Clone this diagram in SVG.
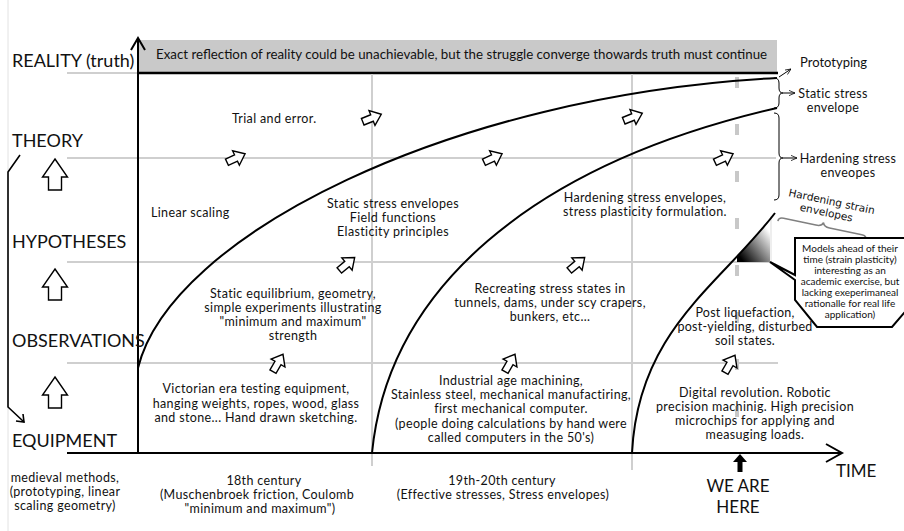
<svg xmlns="http://www.w3.org/2000/svg" width="904" height="531" viewBox="0 0 904 531">
<defs>
<style>
text{font-family:Lato,"Liberation Sans",sans-serif;fill:#111}
.lab{font-size:18px}
.t{font-size:12.5px;letter-spacing:0.35px;text-anchor:middle}
.s{font-size:12.5px;letter-spacing:0.35px}
.r{font-size:12.5px;letter-spacing:0.3px;text-anchor:middle}
.grid{stroke:#cfcfcf;stroke-width:2;fill:none}
.ax{stroke:#000;stroke-width:2;fill:none}
.cv{stroke:#000;stroke-width:2;fill:none}
.ba{fill:#fff;stroke:#000;stroke-width:1.4}
.thin{stroke:#000;stroke-width:1;fill:none}
.co{font-size:10px;text-anchor:middle}
</style>
<marker id="sm" viewBox="0 0 8 8" refX="8" refY="4" markerWidth="6" markerHeight="6" orient="auto" markerUnits="userSpaceOnUse"><path d="M0,0.5L8,4L0,7.5" fill="none" stroke="#000" stroke-width="1"/></marker>
<linearGradient id="g" x1="0" y1="1" x2="1" y2="0"><stop offset="0.1" stop-color="#000"/><stop offset="0.85" stop-color="#fff"/></linearGradient>
<path id="da" d="M-10,-3.5L0,-3.5L0,-8L10,0L0,8L0,3.5L-10,3.5Z"/>
<path id="up" d="M0,0L12.5,18L6.5,18L6.5,31L-6.5,31L-6.5,18L-12.5,18Z"/>
</defs>
<rect width="904" height="531" fill="#fff"/>
<line x1="8" y1="0" x2="8" y2="531" stroke="#e2e2e2" stroke-width="1"/>

<g id="banner">
<rect x="138" y="40" width="639" height="33" fill="#c9c9c9"/>
<line x1="138" y1="73" x2="778" y2="73" stroke="#000" stroke-width="2.5"/>
<text x="156" y="59" style="font-size:13.3px">Exact reflection of reality could be unachievable, but the struggle converge thowards truth must continue</text>
</g>

<g id="grid">
<path class="grid" d="M67,73H138M67,158H776M67,262H770M67,363H778M372,74V466M632,74V470"/>
<line x1="737" y1="77" x2="737" y2="425" stroke="#c8c8c8" stroke-width="4" stroke-dasharray="11 36"/>
</g>

<g id="gradient-area">
<polygon points="737,262 737,257 739.6,253.8 748,244 757.8,233.9 766.4,223.6 770,219 770,262" fill="url(#g)"/>
<line x1="771" y1="216" x2="771" y2="262" stroke="#ddd" stroke-width="1"/>
</g>

<g id="connectors">
<path class="ax" d="M138,39V453M67,453H842"/>
<path class="ax" d="M131,50L138,38L145,50"/>
<path class="ax" d="M826,444L842,453L826,462"/>
<path class="cv" d="M138,368C170,236 450,95 777,78"/>
<path class="cv" d="M372,453C388,290 530,165 777,108"/>
<path class="cv" d="M632,453C638,330 720,285 775,213"/>
<path class="ax" style="stroke-width:1.6" d="M20,155L8,172V407L24,422"/>
<path class="ax" style="stroke-width:1.6" d="M16,421L24,422L23,414"/>
<path class="thin" d="M779,77L791,69" marker-end="url(#sm)"/>
<path class="thin" d="M774,78q5,0 5,5v5q0,5 4,5q-4,0 -4,5v5q0,5 -5,5"/>
<path class="thin" d="M783,93H795" marker-end="url(#sm)"/>
<path class="thin" d="M774,113q5,0 5,5v35q0,5 4,5q-4,0 -4,5v32q0,5 -5,5"/>
<path class="thin" d="M783,158H797" marker-end="url(#sm)"/>
<path d="M-45,3q0,-4 5,-4h33q6,0 7,-4q1,4 7,4h33q5,0 5,4" transform="translate(822.5,227.5) rotate(12)" fill="none" stroke="#808080" stroke-width="1.5"/>
<polygon points="740,454 747,462 742.5,462 742.5,472 737.5,472 737.5,462 733,462" fill="#000"/>
</g>

<g id="up-arrows">
<use href="#up" class="ba" transform="translate(55,159)"/>
<use href="#up" class="ba" transform="translate(55,269)"/>
<use href="#up" class="ba" transform="translate(55,377)"/>
</g>

<g id="step-arrows">
<use href="#da" class="ba" transform="translate(372,118) rotate(-22)"/>
<use href="#da" class="ba" transform="translate(633,117) rotate(-22)"/>
<use href="#da" class="ba" transform="translate(236,158) rotate(-25)"/>
<use href="#da" class="ba" transform="translate(493,158) rotate(-25)"/>
<use href="#da" class="ba" transform="translate(724,158) rotate(-25)"/>
<use href="#da" class="ba" transform="translate(347,264) rotate(-40)"/>
<use href="#da" class="ba" transform="translate(577,264) rotate(-40)"/>
<use href="#da" class="ba" transform="translate(278,363) rotate(-60)"/>
<use href="#da" class="ba" transform="translate(510,363) rotate(-60)"/>
<use href="#da" class="ba" transform="translate(730,364) rotate(-60)"/>
</g>

<g id="levels">
<text class="lab" x="12" y="67">REALITY (truth)</text>
<text class="lab" x="12" y="147">THEORY</text>
<text class="lab" x="12" y="248">HYPOTHESES</text>
<text class="lab" x="12" y="347">OBSERVATIONS</text>
<text class="lab" x="12" y="447">EQUIPMENT</text>
<text class="lab" x="836" y="477" style="font-size:17px">TIME</text>
</g>

<g id="right-labels">
<text x="800" y="67" style="font-size:13px">Prototyping</text>
<text class="r" x="833" y="98">Static stress</text>
<text class="r" x="833" y="112">envelope</text>
<text class="r" x="848" y="163">Hardening stress</text>
<text class="r" x="848" y="177">enveopes</text>
<g transform="translate(831,205) rotate(12)">
<text x="0" y="0" style="font-family:'DejaVu Sans',sans-serif;font-size:10.5px;text-anchor:middle">Hardening strain</text>
<text x="-3" y="12" style="font-family:'DejaVu Sans',sans-serif;font-size:10.5px;text-anchor:middle">envelopes</text>
</g>
</g>

<g id="callout">
<polygon points="795,238 910,238 910,306 892,327 817,327 795,300 795,280 770,262 795,275" fill="#fff" stroke="#000" stroke-width="2"/>
<text class="co" x="850" y="252">Models ahead of their</text>
<text class="co" x="850" y="263">time (strain plasticity)</text>
<text class="co" x="850" y="274">interesting as an</text>
<text class="co" x="850" y="285">academic exercise, but</text>
<text class="co" x="850" y="296">lacking exeperimaneal</text>
<text class="co" x="850" y="307">rationalle for real life</text>
<text class="co" x="850" y="318">application)</text>
</g>

<g id="n-trial"><text class="s" x="232" y="123">Trial and error.</text></g>
<g id="n-linear"><text class="s" x="151" y="217">Linear scaling</text></g>
<g id="n-static-env">
<text class="t" x="393" y="208">Static stress envelopes</text>
<text class="t" x="393" y="222">Field functions</text>
<text class="t" x="393" y="236">Elasticity principles</text>
</g>
<g id="n-hardening">
<text class="t" x="645" y="202">Hardening stress envelopes,</text>
<text class="t" x="645" y="216">stress plasticity formulation.</text>
</g>
<g id="n-static-eq">
<text class="t" x="293" y="298">Static equilibrium, geometry,</text>
<text class="t" x="293" y="312">simple experiments illustrating</text>
<text class="t" x="293" y="326">"minimum and maximum"</text>
<text class="t" x="293" y="340">strength</text>
</g>
<g id="n-recreating">
<text class="t" x="550" y="293">Recreating stress states in</text>
<text class="t" x="550" y="307">tunnels, dams, under scy crapers,</text>
<text class="t" x="550" y="321">bunkers, etc...</text>
</g>
<g id="n-post">
<text class="t" x="745" y="317" style="letter-spacing:0.25px">Post liquefaction,</text>
<text class="t" x="745" y="331" style="letter-spacing:0.25px">post-yielding, disturbed</text>
<text class="t" x="745" y="345" style="letter-spacing:0.25px">soil states.</text>
</g>
<g id="n-victorian">
<text class="t" x="256" y="393">Victorian era testing equipment,</text>
<text class="t" x="256" y="408">hanging weights, ropes, wood, glass</text>
<text class="t" x="256" y="422">and stone... Hand drawn sketching.</text>
</g>
<g id="n-industrial">
<text class="t" x="511" y="385">Industrial age machining,</text>
<text class="t" x="511" y="399">Stainless steel, mechanical manufactiring,</text>
<text class="t" x="511" y="413">first mechanical computer.</text>
<text class="t" x="511" y="428">(people doing calculations by hand were</text>
<text class="t" x="511" y="442">called computers in the 50's)</text>
</g>
<g id="n-digital">
<text class="t" x="755" y="397">Digital revolution. Robotic</text>
<text class="t" x="755" y="411">precision machinig. High precision</text>
<text class="t" x="755" y="425">microchips for applying and</text>
<text class="t" x="755" y="439">measuging loads.</text>
</g>
<g id="era-medieval">
<text class="t" x="65" y="482">medieval methods,</text>
<text class="t" x="65" y="496">(prototyping, linear</text>
<text class="t" x="65" y="510">scaling geometry)</text>
</g>
<g id="era-18th">
<text class="t" x="264" y="485">18th century</text>
<text class="t" x="257" y="499">(Muschenbroek friction, Coulomb</text>
<text class="t" x="260" y="513">"minimum and maximum")</text>
</g>
<g id="era-19th">
<text class="t" x="502" y="485">19th-20th century</text>
<text class="t" x="503" y="499">(Effective stresses, Stress envelopes)</text>
</g>
<g id="we-are-here">
<text x="738" y="492" style="font-size:17px;text-anchor:middle">WE ARE</text>
<text x="738" y="513" style="font-size:17px;text-anchor:middle">HERE</text>
</g>
</svg>
